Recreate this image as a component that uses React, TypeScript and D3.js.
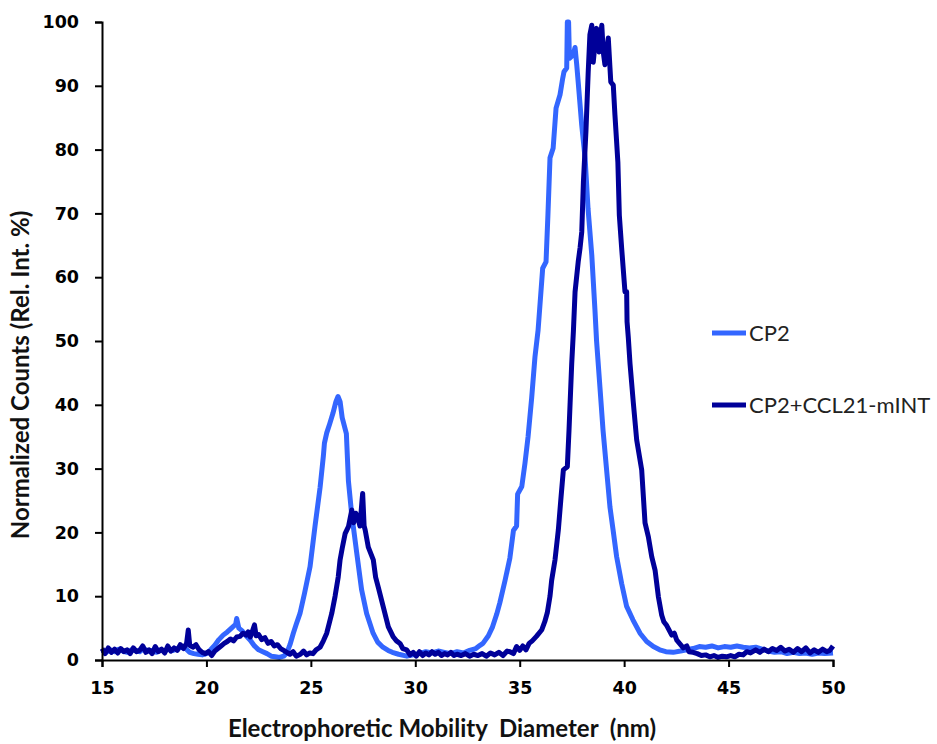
import React, { useEffect, useRef } from 'react';
import * as d3 from 'd3';

// CP2 alone, [diameter nm, normalized counts %]
const cp2Points: [number, number][] = [
  [15.0, 1.5], [15.2, 1.2], [15.4, 1.6], [15.6, 1.3], [15.8, 1.7], [16.0, 1.4], [16.2, 1.2], [16.4, 1.6],
  [16.6, 1.5], [16.8, 1.3], [17.0, 1.8], [17.2, 1.4], [17.4, 1.5], [17.6, 1.2], [17.8, 1.6], [18.0, 1.4],
  [18.2, 1.7], [18.4, 1.5], [18.6, 1.8], [18.8, 2.0], [19.0, 1.8], [19.2, 1.2], [19.4, 1.0], [19.6, 0.9],
  [19.8, 0.8], [20.0, 1.0], [20.2, 1.6], [20.4, 2.3], [20.6, 3.2], [20.8, 3.9], [21.0, 4.4], [21.2, 5.0],
  [21.4, 5.6], [21.45, 6.5], [21.55, 5.0], [21.7, 4.6], [21.9, 3.8], [22.1, 3.1], [22.3, 2.2], [22.5, 1.6],
  [22.7, 1.3], [22.9, 1.0], [23.1, 0.6], [23.3, 0.5], [23.5, 0.4], [23.7, 0.6], [23.85, 1.1], [24.0, 2.4],
  [24.16, 4.2], [24.3, 5.6], [24.48, 7.3], [24.7, 10.5], [24.96, 14.6], [25.2, 21], [25.44, 27], [25.6, 32],
  [25.65, 34], [25.76, 35.6], [25.9, 37], [26.06, 38.7], [26.2, 40.5], [26.3, 41.3], [26.4, 40.5], [26.5, 38],
  [26.7, 35.5], [26.8, 28], [26.95, 23], [27.2, 16.7], [27.43, 11], [27.67, 7.3], [27.98, 4.2], [28.2, 2.8],
  [28.45, 2.0], [28.7, 1.5], [28.9, 1.2], [29.2, 0.9], [29.6, 0.6], [29.9, 0.8], [30.2, 1.0], [30.5, 1.3],
  [30.8, 1.1], [31.1, 1.4], [31.4, 1.2], [31.7, 1.0], [32.0, 1.3], [32.3, 1.1], [32.6, 1.5], [32.9, 1.8],
  [33.1, 2.3], [33.24, 2.6], [33.5, 3.8], [33.7, 5.2], [33.9, 7.2], [34.05, 9], [34.3, 12.5], [34.53, 16],
  [34.7, 20.3], [34.85, 21], [34.9, 26], [35.1, 27.2], [35.25, 30.8], [35.4, 35], [35.57, 41], [35.73, 47.5],
  [35.88, 51.7], [36.0, 57], [36.1, 61.4], [36.26, 62.4], [36.35, 69.7], [36.45, 78.7], [36.6, 80.2],
  [36.74, 86.5], [36.93, 88.6], [37.06, 91.2], [37.12, 92.2], [37.25, 92.8], [37.28, 100], [37.34, 100],
  [37.38, 94.3], [37.55, 94.8], [37.65, 96], [37.73, 93.3], [37.8, 90.6], [37.97, 83.8], [38.13, 78.7],
  [38.27, 70.8], [38.45, 63.5], [38.6, 55], [38.68, 50], [38.84, 42.8], [38.99, 36], [39.16, 29.8],
  [39.32, 24], [39.47, 20.4], [39.64, 16.2], [39.88, 12], [40.12, 8.4], [40.42, 6.3], [40.76, 4.2],
  [41.08, 2.9], [41.4, 2.1], [41.7, 1.6], [42.0, 1.3], [42.35, 1.2], [42.7, 1.4], [43.0, 1.6], [43.3, 1.8],
  [43.6, 2.1], [43.9, 2.0], [44.2, 2.2], [44.5, 1.9], [44.8, 2.1], [45.1, 2.0], [45.4, 2.2], [45.7, 2.0],
  [46.0, 1.9], [46.3, 2.0], [46.6, 1.7], [46.9, 1.4], [47.2, 1.2], [47.5, 1.3], [47.8, 1.0], [48.1, 1.2],
  [48.4, 1.0], [48.7, 1.1], [49.0, 0.9], [49.3, 1.1], [49.6, 1.0], [50.0, 1.1],
];

// CP2 + CCL21-mINT
const cp2MintPoints: [number, number][] = [
  [15.0, 1.8], [15.15, 1.0], [15.3, 1.9], [15.45, 1.2], [15.6, 1.7], [15.75, 1.1], [15.9, 1.8], [16.05, 1.3],
  [16.2, 1.6], [16.35, 1.0], [16.5, 1.9], [16.65, 1.3], [16.8, 1.5], [16.95, 2.2], [17.1, 1.2], [17.25, 1.6],
  [17.4, 1.0], [17.55, 2.1], [17.7, 1.3], [17.85, 1.7], [18.0, 1.1], [18.15, 2.2], [18.3, 1.4], [18.45, 1.9],
  [18.6, 1.5], [18.75, 2.4], [18.9, 1.8], [19.05, 2.6], [19.13, 4.7], [19.2, 2.3], [19.35, 2.0], [19.5, 2.4],
  [19.65, 1.6], [19.8, 1.2], [19.95, 1.0], [20.1, 1.3], [20.25, 0.7], [20.4, 1.4], [20.55, 1.8], [20.7, 2.2],
  [20.85, 2.6], [21.0, 2.9], [21.15, 3.3], [21.3, 3.0], [21.45, 3.6], [21.6, 3.7], [21.75, 4.2], [21.9, 3.9],
  [22.0, 4.4], [22.1, 3.6], [22.2, 4.5], [22.3, 5.5], [22.38, 3.8], [22.5, 4.0], [22.65, 3.2], [22.8, 3.5],
  [22.95, 2.6], [23.1, 2.9], [23.25, 2.2], [23.4, 2.4], [23.55, 1.8], [23.7, 1.5], [23.85, 1.2], [24.0, 0.9],
  [24.15, 1.3], [24.3, 0.6], [24.5, 0.9], [24.65, 1.4], [24.8, 0.8], [24.95, 1.1], [25.1, 1.0], [25.25, 1.6],
  [25.44, 2.0], [25.6, 3.0], [25.76, 4.2], [25.9, 6.0], [26.0, 7.3], [26.16, 10], [26.31, 13], [26.4, 15.7],
  [26.5, 17.5], [26.64, 19.8], [26.8, 20.9], [26.96, 23.5], [27.05, 21.5], [27.15, 23.0], [27.27, 22.0],
  [27.35, 21], [27.45, 25.0], [27.48, 26.1], [27.55, 21], [27.6, 20.4], [27.75, 17.7], [27.99, 15.7],
  [28.1, 13], [28.23, 11.4], [28.47, 8.3], [28.71, 5.2], [28.95, 3.6], [29.1, 3.0], [29.27, 2.6], [29.4, 1.8],
  [29.59, 1.6], [29.75, 0.8], [29.9, 1.2], [30.05, 0.6], [30.2, 1.3], [30.35, 0.7], [30.5, 1.1], [30.65, 0.8],
  [30.8, 1.3], [30.95, 0.9], [31.1, 1.2], [31.25, 0.7], [31.4, 1.0], [31.55, 0.8], [31.7, 1.2], [31.85, 0.7],
  [32.0, 0.9], [32.2, 0.7], [32.4, 1.0], [32.6, 0.6], [32.8, 0.9], [33.0, 0.7], [33.2, 1.0], [33.4, 0.6],
  [33.6, 1.1], [33.8, 0.8], [34.0, 1.2], [34.2, 0.7], [34.4, 1.4], [34.53, 1.3], [34.7, 1.0], [34.85, 2.1],
  [35.0, 1.5], [35.15, 2.2], [35.3, 1.6], [35.45, 2.6], [35.6, 3.0], [35.8, 3.7], [36.05, 4.7], [36.2, 6.0],
  [36.32, 7.4], [36.45, 10], [36.53, 12.5], [36.69, 15.7], [36.85, 20.4], [36.98, 25.6], [37.09, 29.8],
  [37.28, 30.3], [37.36, 36], [37.49, 46.5], [37.57, 51.5], [37.65, 57.7], [37.8, 62.4], [37.89, 64.6],
  [37.97, 67.1], [38.05, 74.9], [38.17, 82.8], [38.28, 92.2], [38.36, 98], [38.45, 99.5], [38.52, 93.7],
  [38.6, 96.4], [38.68, 99], [38.8, 95.3], [38.93, 99.5], [39.0, 95.3], [39.08, 93.3], [39.24, 97.5],
  [39.36, 90.6], [39.48, 90.1], [39.56, 85.4], [39.64, 81.2], [39.7, 78], [39.77, 69.7], [39.88, 64.6],
  [40.04, 57.7], [40.12, 57.7], [40.14, 53], [40.2, 50.5], [40.28, 46.5], [40.44, 40.3], [40.6, 34.5],
  [40.84, 29.8], [41.0, 21.5], [41.16, 19.3], [41.32, 16.2], [41.48, 14.1], [41.64, 9.9], [41.8, 7.0],
  [41.9, 6.0], [42.04, 5.4], [42.28, 3.9], [42.4, 4.2], [42.52, 3.1], [42.65, 2.6], [42.83, 1.9], [43.0, 2.2],
  [43.1, 1.3], [43.3, 1.2], [43.5, 1.0], [43.7, 0.7], [43.9, 0.8], [44.1, 0.5], [44.3, 0.7], [44.5, 0.4],
  [44.7, 0.6], [44.9, 0.5], [45.1, 0.7], [45.3, 0.5], [45.5, 0.9], [45.7, 0.8], [45.87, 1.3], [46.05, 1.1],
  [46.3, 1.6], [46.5, 1.2], [46.7, 1.7], [46.9, 1.3], [47.1, 1.8], [47.3, 1.5], [47.5, 2.0], [47.7, 1.4],
  [47.9, 1.7], [48.1, 1.2], [48.3, 1.8], [48.5, 1.3], [48.7, 1.9], [48.9, 1.1], [49.1, 1.6], [49.3, 1.2],
  [49.5, 1.7], [49.7, 1.3], [49.85, 1.5], [50.0, 2.2],
];

const seriesNames = ['CP2', 'CP2+CCL21-mINT'];
const seriesColors = ['#3366FF', '#000099'];
const xTicks = [15, 20, 25, 30, 35, 40, 45, 50];
const yTicks = [0, 10, 20, 30, 40, 50, 60, 70, 80, 90, 100];

const W = 937;
const H = 744;
const margin = { left: 102, right: 104, top: 22, bottom: 84 };

export default function App() {
  const ref = useRef<SVGSVGElement>(null);

  useEffect(() => {
    const svg = d3.select(ref.current);
    svg.selectAll('*').remove();

    const x = d3.scaleLinear().domain([15, 50]).range([margin.left, W - margin.right]);
    const y = d3.scaleLinear().domain([0, 100]).range([H - margin.bottom, margin.top]);

    const line = d3.line<[number, number]>()
      .x(d => x(d[0]))
      .y(d => y(d[1]));

    const plot = svg.append('g');
    [cp2Points, cp2MintPoints].forEach((pts, i) => {
      plot.append('path')
        .datum(pts)
        .attr('d', line)
        .attr('fill', 'none')
        .attr('stroke', seriesColors[i])
        .attr('stroke-width', 5)
        .attr('stroke-linejoin', 'round');
    });

    // axes
    const xAxis = svg.append('g')
      .attr('transform', `translate(0,${H - margin.bottom})`)
      .call(d3.axisBottom(x).tickValues(xTicks).tickSize(7).tickPadding(15));
    const yAxis = svg.append('g')
      .attr('transform', `translate(${margin.left},0)`)
      .call(d3.axisLeft(y).tickValues(yTicks).tickSize(7).tickPadding(16));

    [xAxis, yAxis].forEach(ax => {
      ax.select('.domain').attr('stroke', '#000').attr('stroke-width', 2);
      ax.selectAll('.tick line').attr('stroke', '#000').attr('stroke-width', 2);
      ax.selectAll('.tick text')
        .attr('fill', '#000')
        .style('font-family', 'DejaVu Sans')
        .style('font-weight', 'bold')
        .style('font-size', '17.5px');
    });

    svg.append('text')
      .attr('x', 442)
      .attr('y', 737)
      .attr('text-anchor', 'middle')
      .style('font-family', 'Lato')
      .style('font-weight', 'bold')
      .style('font-size', '24px')
      .style('white-space', 'pre')
      .attr('fill', '#111')
      .text('Electrophoretic Mobility  Diameter  (nm)');

    svg.append('text')
      .attr('transform', 'translate(29,375) rotate(-90)')
      .attr('text-anchor', 'middle')
      .style('font-family', 'Lato')
      .style('font-weight', 'bold')
      .style('font-size', '24px')
      .attr('fill', '#111')
      .text('Normalized Counts (Rel. Int. %)');

    // legend
    const legend = svg.append('g');
    seriesNames.forEach((name, i) => {
      const ly = 333 + i * 72;
      legend.append('line')
        .attr('x1', 712).attr('x2', 746)
        .attr('y1', ly).attr('y2', ly)
        .attr('stroke', seriesColors[i])
        .attr('stroke-width', 5);
      legend.append('text')
        .attr('x', 749)
        .attr('y', ly + 8)
        .style('font-family', 'Lato')
        .style('font-size', '22px')
        .attr('fill', '#222')
        .text(name);
    });
  }, []);

  return (
    <svg
      ref={ref}
      width={W}
      height={H}
      style={{ position: 'absolute', left: 0, top: 0, background: '#fff' }}
    />
  );
}
